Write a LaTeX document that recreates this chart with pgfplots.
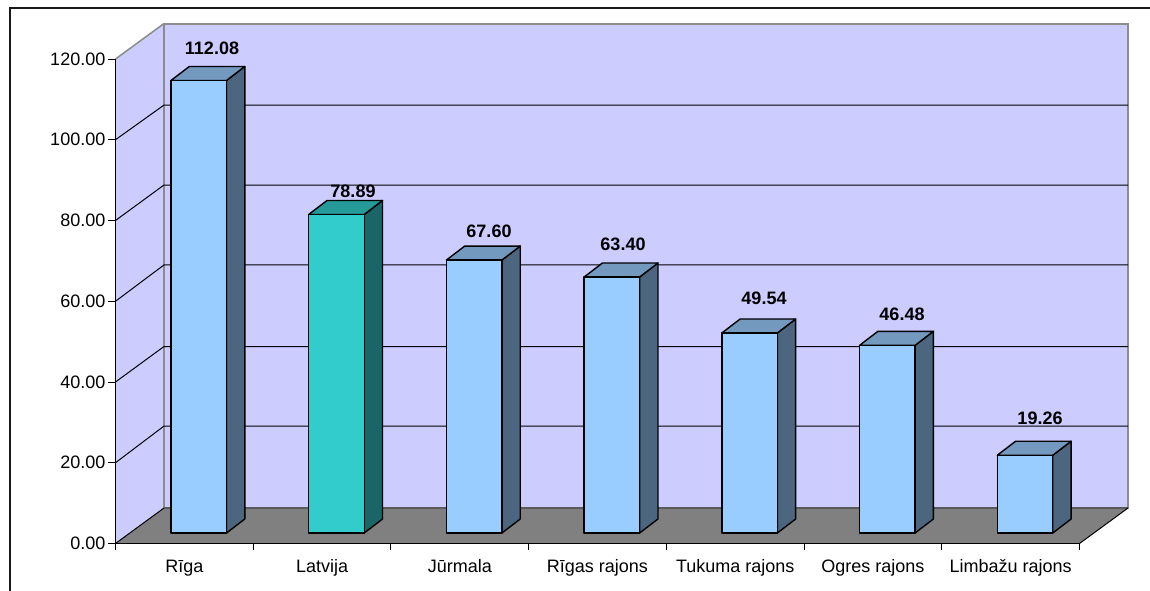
\documentclass[border=0pt]{standalone}
\usepackage{fontspec}
\setmainfont{Liberation Sans}
\usepackage{pgfplots}
\pgfplotsset{compat=1.18}
\definecolor{wall}{HTML}{CCCCFF}
\definecolor{floorc}{HTML}{808080}
\definecolor{edgec}{HTML}{8C8C8C}
\definecolor{bfront}{HTML}{99CCFF}
\definecolor{btop}{HTML}{7399BF}
\definecolor{bside}{HTML}{4D6680}
\definecolor{tfront}{HTML}{33CCCC}
\definecolor{ttop}{HTML}{269999}
\definecolor{tside}{HTML}{1A6666}
% depth of the box (wall), in axis units
\def\wx{0.3522}\def\wy{8.79}
% depth of a bar, width of a bar, left gap, floor offset
\def\bx{0.133}\def\by{3.47}\def\bw{0.403}\def\bg{0.403}\def\bb{2.6}
% #1 index, #2 value, #3 front, #4 top, #5 side
\newcommand{\boxbar}[5]{%
  \addplot[fill=#5,draw=black,line width=1.4pt,line join=round] coordinates {
    ({#1+\bg+\bw},{\bb}) ({#1+\bg+\bw+\bx},{\bb+\by}) ({#1+\bg+\bw+\bx},{\bb+\by+#2}) ({#1+\bg+\bw},{\bb+#2})} --cycle;
  \addplot[fill=#4,draw=black,line width=1.4pt,line join=round] coordinates {
    ({#1+\bg},{\bb+#2}) ({#1+\bg+\bx},{\bb+\by+#2}) ({#1+\bg+\bw+\bx},{\bb+\by+#2}) ({#1+\bg+\bw},{\bb+#2})} --cycle;
  \addplot[fill=#3,draw=black,line width=1.4pt,line join=round] coordinates {
    ({#1+\bg},{\bb}) ({#1+\bg+\bw},{\bb}) ({#1+\bg+\bw},{\bb+#2}) ({#1+\bg},{\bb+#2})} --cycle;
}
% label at picture position #1,#2 (px)
\newcommand{\barlabel}[3]{%
  \node[anchor=base,inner sep=0pt,font=\fontsize{18}{20}\selectfont\bfseries] at (axis cs:{(#1-115.5)/137.714},{(543.5-#2)/4.0375}) {#3};
}
\begin{document}
\begin{tikzpicture}[x=1pt,y=1pt]
\path[use as bounding box] (0pt,0pt) rectangle (1150pt,591pt);
\draw[line width=2pt,color=black!90] (10pt,0pt) -- (10pt,582.5pt) -- (1150pt,582.5pt);
\begin{axis}[
  at={(115.5pt,47.5pt)}, anchor=south west,
  scale only axis, width=964pt, height=484.5pt,
  xmin=0, xmax=7, ymin=0, ymax=120,
  clip=false, axis on top=true,
  axis lines=left, axis line style={-,line width=1.1pt,black},
  xtick={0.5,1.5,2.5,3.5,4.5,5.5,6.5},
  xticklabels={Rīga,Latvija,Jūrmala,Rīgas rajons,Tukuma rajons,Ogres rajons,Limbažu rajons},
  minor xtick={0,1,2,3,4,5,6,7},
  ytick={0,20,40,60,80,100,120},
  tick align=outside,
  major tick length=7pt, minor tick length=7pt,
  major x tick style={draw=none},
  minor x tick style={black,line width=0.9pt},
  y tick style={black,line width=0.9pt},
  tick label style={font=\fontsize{18}{20}\selectfont},
  yticklabel style={/pgf/number format/fixed,/pgf/number format/fixed zerofill,/pgf/number format/precision=2,/pgf/number format/assume math mode=true,inner sep=0pt,xshift=-3pt},
  xticklabel style={inner sep=0pt,yshift=-9pt},
]
% walls and floor
\addplot[fill=wall,draw=none] coordinates {(0,0) ({\wx},{\wy}) ({\wx},{120+\wy}) (0,120)} --cycle;
\addplot[fill=wall,draw=edgec,line width=2pt] coordinates {({\wx},{\wy}) ({7+\wx},{\wy}) ({7+\wx},{120+\wy}) ({\wx},{120+\wy})} --cycle;
\addplot[draw=edgec,line width=1.5pt] coordinates {(0,120) ({\wx},{120+\wy})};
\addplot[fill=floorc,draw=none] coordinates {(0,0) (7,0) ({7+\wx},{\wy}) ({\wx},{\wy})} --cycle;
\addplot[draw=black!65,line width=1.2pt] coordinates {({\wx},{\wy}) ({7+\wx},{\wy})};
\addplot[draw=black,line width=1pt] coordinates {(7,0) ({7+\wx},{\wy})};
\addplot[draw=black,line width=1pt] coordinates {(0,0) ({\wx},{\wy})};
% grid lines
\addplot[draw=black,line width=1pt] coordinates {(0,20) ({\wx},{20.3+\wy}) ({7+\wx},{20.3+\wy})};
\addplot[draw=black,line width=1pt] coordinates {(0,40) ({\wx},{40+\wy}) ({7+\wx},{40+\wy})};
\addplot[draw=black,line width=1pt] coordinates {(0,60) ({\wx},{60.2+\wy}) ({7+\wx},{60.2+\wy})};
\addplot[draw=black,line width=1pt] coordinates {(0,80) ({\wx},{80+\wy}) ({7+\wx},{80+\wy})};
\addplot[draw=black,line width=1pt] coordinates {(0,100) ({\wx},{99.8+\wy}) ({7+\wx},{99.8+\wy})};
% bars
\boxbar{0}{112.08}{bfront}{btop}{bside}
\boxbar{1}{78.89}{tfront}{ttop}{tside}
\boxbar{2}{67.60}{bfront}{btop}{bside}
\boxbar{3}{63.40}{bfront}{btop}{bside}
\boxbar{4}{49.54}{bfront}{btop}{bside}
\boxbar{5}{46.48}{bfront}{btop}{bside}
\boxbar{6}{19.26}{bfront}{btop}{bside}
% value labels
\barlabel{212}{54.5}{112.08}
\barlabel{353}{197.5}{78.89}
\barlabel{489}{237.5}{67.60}
\barlabel{623}{250.5}{63.40}
\barlabel{764}{304.5}{49.54}
\barlabel{902}{320.5}{46.48}
\barlabel{1040}{424.5}{19.26}
\end{axis}
\end{tikzpicture}
\end{document}
